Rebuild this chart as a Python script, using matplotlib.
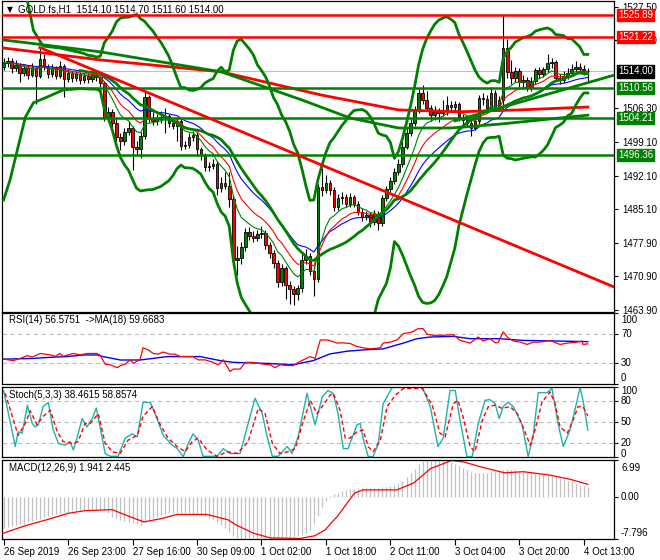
import numpy as np
import pandas as pd
import matplotlib
matplotlib.use("Agg")
import matplotlib.pyplot as plt
import matplotlib.transforms as mtransforms
from matplotlib.patches import Rectangle

plt.rcParams["font.family"] = ["Liberation Sans", "DejaVu Sans"]
plt.rcParams["font.size"] = 7

# ── H1 bars of GOLD.fs, bar 0 = 26 Sep 2019 07:00 ───────────────────────────
first_open = 1515.0
closes = [
    1515.8, 1516.2, 1514.6, 1515.4, 1513.6, 1514.8, 1513.2, 1514.6, 1513.0, 1516.6,
    1515.0, 1513.4, 1514.8, 1513.0, 1515.2, 1512.4, 1513.6, 1512.6, 1513.4, 1512.2,
    1513.0, 1512.4, 1513.2, 1512.8, 1511.6, 1504.2, 1505.5, 1503.1, 1500.2, 1499.4,
    1501.3, 1502.1, 1498.1, 1497.6, 1500.4, 1508.6, 1504.2, 1503.6, 1504.0, 1504.4,
    1504.6, 1503.2, 1502.6, 1503.6, 1498.3, 1498.6, 1500.2, 1500.6, 1497.6, 1496.4,
    1493.8, 1494.2, 1494.6, 1489.4, 1490.6, 1490.0, 1487.2, 1474.4, 1474.8, 1477.1,
    1480.2, 1479.5, 1479.0, 1479.8, 1480.0, 1477.5, 1475.8, 1473.8, 1469.8, 1472.7,
    1469.1, 1468.2, 1467.3, 1468.4, 1474.4, 1475.2, 1472.0, 1470.4, 1489.6, 1489.0,
    1490.6, 1489.1, 1485.5, 1487.4, 1487.6, 1486.2, 1487.6, 1486.2, 1484.5, 1483.4,
    1483.8, 1482.4, 1484.0, 1482.2, 1487.4, 1489.2, 1491.0, 1492.8, 1494.6, 1498.2,
    1501.0, 1503.1, 1505.9, 1509.4, 1508.0, 1506.4, 1504.8, 1505.6, 1505.2, 1505.6,
    1507.0, 1506.6, 1507.2, 1504.4, 1503.8, 1503.2, 1502.2, 1503.6, 1508.4, 1508.2,
    1506.4, 1509.4, 1506.6, 1508.0, 1519.0, 1513.8, 1512.6, 1514.0, 1511.8, 1512.2,
    1510.6, 1512.0, 1514.2, 1513.4, 1514.4, 1515.8, 1516.0, 1512.6, 1512.2, 1513.0,
    1513.6, 1514.4, 1515.0, 1514.4, 1514.1, 1514.0]
highs = [
    1516.8, 1517.0, 1516.8, 1516.4, 1515.8, 1515.6, 1515.4, 1515.8, 1515.0, 1519.0,
    1517.6, 1515.6, 1515.6, 1515.2, 1516.2, 1515.6, 1514.4, 1514.0, 1514.0, 1513.8,
    1513.6, 1513.6, 1513.8, 1513.8, 1513.2, 1512.0, 1506.6, 1506.0, 1504.2, 1501.0,
    1502.2, 1503.6, 1502.6, 1499.4, 1501.2, 1509.6, 1509.0, 1505.4, 1505.0, 1505.6,
    1506.2, 1505.0, 1503.8, 1504.4, 1504.0, 1499.4, 1501.0, 1501.4, 1501.2, 1498.2,
    1496.8, 1495.0, 1495.6, 1495.2, 1491.8, 1492.8, 1492.8, 1488.0, 1477.4, 1478.2,
    1481.0, 1481.2, 1480.4, 1480.6, 1481.6, 1480.6, 1478.2, 1476.4, 1474.4, 1473.6,
    1473.2, 1470.0, 1469.0, 1469.2, 1475.8, 1476.6, 1475.8, 1473.0, 1490.4, 1493.7,
    1492.2, 1491.2, 1489.6, 1488.2, 1488.6, 1488.2, 1488.4, 1488.0, 1486.8, 1485.2,
    1484.6, 1484.4, 1484.8, 1484.6, 1488.0, 1490.0, 1491.8, 1493.6, 1495.6, 1499.4,
    1502.0, 1504.0, 1506.8, 1510.2, 1511.1, 1509.8, 1507.0, 1506.8, 1506.4, 1508.0,
    1508.8, 1507.8, 1507.8, 1507.6, 1505.0, 1504.6, 1503.8, 1504.4, 1509.0, 1509.4,
    1509.0, 1510.8, 1510.0, 1508.8, 1525.9, 1520.8, 1516.4, 1515.0, 1514.6, 1513.2,
    1512.8, 1512.8, 1514.8, 1515.0, 1515.0, 1517.6, 1516.8, 1516.4, 1513.4, 1514.0,
    1514.6, 1515.6, 1516.2, 1515.8, 1515.4, 1514.7]
lows = [
    1514.2, 1515.0, 1513.6, 1514.0, 1511.8, 1513.0, 1512.4, 1512.8, 1507.2, 1512.6,
    1514.2, 1512.6, 1512.8, 1512.4, 1512.6, 1508.6, 1511.8, 1511.8, 1512.0, 1511.4,
    1511.6, 1511.6, 1511.8, 1512.0, 1510.8, 1503.6, 1503.4, 1502.2, 1499.0, 1497.5,
    1498.6, 1500.6, 1493.3, 1496.4, 1495.8, 1499.8, 1503.4, 1502.8, 1502.8, 1503.2,
    1501.0, 1502.4, 1501.8, 1499.4, 1497.4, 1497.6, 1497.8, 1499.4, 1496.2, 1495.4,
    1493.0, 1493.0, 1493.4, 1488.0, 1488.6, 1489.2, 1485.6, 1472.8, 1471.2, 1473.6,
    1476.2, 1478.6, 1478.2, 1478.4, 1479.0, 1476.6, 1474.8, 1472.6, 1468.6, 1469.0,
    1466.2, 1465.2, 1465.0, 1466.0, 1467.6, 1473.6, 1471.2, 1466.8, 1469.8, 1487.8,
    1488.4, 1488.0, 1484.6, 1484.8, 1486.2, 1485.4, 1485.6, 1485.4, 1483.8, 1482.6,
    1482.8, 1481.4, 1481.8, 1480.6, 1481.6, 1486.8, 1488.6, 1490.4, 1492.2, 1494.0,
    1497.6, 1500.4, 1502.6, 1505.2, 1507.2, 1505.6, 1503.6, 1503.8, 1503.4, 1504.6,
    1504.8, 1505.4, 1505.8, 1503.6, 1503.0, 1502.4, 1500.4, 1501.6, 1503.0, 1507.0,
    1505.6, 1505.8, 1505.6, 1505.8, 1506.0, 1512.6, 1511.4, 1511.8, 1510.8, 1510.6,
    1509.8, 1509.8, 1511.4, 1512.6, 1512.8, 1513.8, 1514.8, 1512.0, 1511.4, 1511.6,
    1512.4, 1513.0, 1513.8, 1513.4, 1513.2, 1511.6]

time_ticks = [0, 16, 32, 48, 64, 80, 96, 112, 128, 144]
time_labels = ["26 Sep 2019", "26 Sep 23:00", "27 Sep 16:00", "30 Sep 09:00", "1 Oct 02:00",
               "1 Oct 18:00", "2 Oct 11:00", "3 Oct 04:00", "3 Oct 20:00", "4 Oct 13:00"]
price_ticks = [1527.50, 1520.50, 1506.30, 1499.10, 1492.10, 1485.10, 1477.90, 1470.90, 1463.90]

# drawn levels and lines
red_levels = [1525.89, 1521.22]
green_levels = [1510.56, 1504.21, 1496.36]
last_price = 1514.00
down_trend_pos = [9, 151.5]
down_trend_val = [1519.0, 1468.7]
up_trend_pos = [112, 151.5]
up_trend_val = [1503.6, 1513.2]

# long moving averages
ma_red_pos = [0, 24, 54, 79, 98, 113, 128, 145]
ma_red_val = [1518.9, 1516.4, 1513.9, 1509.0, 1505.9, 1505.5, 1505.9, 1506.5]
ma_green_pos = [0, 24, 54, 74, 86, 98, 111, 123, 145]
ma_green_val = [1520.6, 1518.1, 1513.9, 1508.0, 1504.2, 1502.1, 1502.1, 1502.9, 1504.8]

# Bollinger bands before the 20-bar window is full
bb_up_early_pos = [0, 4.5, 5.9, 7.4, 9.8, 14]
bb_up_early_val = [1548.0, 1535.0, 1528.8, 1522.6, 1519.3, 1518.9]
bb_lo_early_pos = [0, 1.6, 5.4, 7.4, 10.8, 14.8]
bb_lo_early_val = [1487.0, 1491.2, 1504.4, 1507.4, 1508.6, 1510.1]

# RSI(14) and its MA(18)
rsi_pos = [0, 2.4, 4.1, 5.9, 7.1, 9.1, 11.6, 12.8, 14.0, 14.8, 17.3, 19.0, 20.7, 23.2, 24.0,
           25.2, 26.5, 28.2, 29.0, 30.2, 31.4, 32.2, 33.9, 34.6, 35.9, 37.1, 38.4, 39.6, 41.3,
           42.6, 43.8, 45.6, 47.0, 48.3, 50.0, 52.0, 53.3, 54.5, 56.2, 57.0, 58.7, 60.0, 61.9,
           64.4, 66.2, 67.4, 68.6, 70.4, 71.9, 73.1, 74.4, 76.1, 77.3, 78.6, 80.3, 81.0, 82.8,
           84.3, 86.0, 87.7, 89.2, 91.0, 93.5, 94.2, 96.0, 97.7, 99.2, 101.4, 102.9, 104.1,
           105.1, 106.6, 109.1, 111.6, 113.3, 115.8, 117.8, 119.0, 120.7, 122.0, 122.7, 124.0,
           125.2, 126.5, 128.2, 130.0, 131.4, 133.2, 135.6, 138.1, 139.9, 142.3, 143.6, 143.8, 145]
rsi_val = [35, 33, 36, 40, 38, 43, 41, 39, 43, 39, 43, 41, 43, 43, 40,
           28, 27, 23, 26, 28, 34, 29, 35, 51, 48, 43, 42, 45, 42,
           42, 38.6, 38.6, 38.6, 34, 34, 30.5, 27, 34, 17.6, 21, 21, 30.5, 30.5,
           28, 27, 23, 27, 26, 26, 30.5, 34, 38.6, 36, 62, 62, 61, 57.6,
           58, 57, 52.9, 51, 49.5, 51, 57.6, 59, 62.4, 70.9, 73.3, 78.1, 78.1,
           70, 68.6, 68.6, 69.5, 61.4, 57.6, 66.2, 60.5, 63.8, 58.1, 58.1, 73.3,
           65.2, 60.5, 59, 55.7, 59, 59, 61.4, 55.7, 57.6, 59, 60.5, 55.7, 56.58]
rsima_pos = [0, 7.3, 11.6, 15.8, 19.8, 23.2, 24.7, 29.0, 33.9, 40.6, 48.8, 53.8, 57.0, 65.4,
             71.9, 76.8, 81.0, 85.3, 89.2, 94.2, 99.2, 102.6, 105.9, 111.6, 115.8, 123.2,
             128.9, 137.4, 145]
rsima_val = [35, 36, 37.6, 38.6, 40.9, 40.9, 38.6, 33.8, 33.8, 38.6, 38.6, 32.9, 30.5, 29,
             27.1, 32.9, 42.4, 46.2, 48, 49.5, 57.6, 63.8, 66.2, 67.1, 63.8, 63.8,
             61.4, 60.5, 59.67]

# Stochastic(5,3,3)
k_pos = [0, 2.9, 3.6, 4.6, 5.9, 7.1, 7.8, 8.6, 9.8, 11.1, 12.3, 13.6, 15.3, 16.5, 17.3, 18.3,
         19.5, 20.7, 22.0, 23.0, 24.0, 25.2, 26.5, 28.4, 30.2, 31.9, 33.2, 34.6, 36.4, 37.6,
         39.6, 41.8, 43.1, 44.6, 45.8, 47.0, 48.3, 49.5, 53.0, 54.5, 56.2, 58.7, 60.7, 62.4,
         64.2, 65.4, 66.7, 68.1, 70.4, 71.6, 73.1, 75.3, 77.3, 79.1, 80.5, 81.8, 83.0, 84.3,
         85.5, 87.7, 88.5, 89.2, 90.5, 91.7, 93.0, 94.2, 96.4, 97.7, 103.9, 105.9, 107.8,
         109.1, 110.8, 112.1, 113.3, 115.0, 116.3, 117.8, 119.5, 120.7, 122.0, 123.0, 124.0,
         125.2, 126.5, 128.7, 130.2, 131.4, 132.7, 134.9, 136.1, 137.6, 138.9, 140.6, 143.1,
         143.8, 145]
k_val = [95, 15, 36, 34, 74, 48, 43, 46, 72, 78, 39, 19.5, 17, 22, 10, 29,
         55, 43, 55, 70, 41, 5, 1, 1, 27, 33, 29, 78, 78, 62,
         31, 17, 12, 0.5, 19, 33, 24, 1, 1, 12, 5, 5, 48, 84,
         62, 29, 1, 1, 15, 5, 29, 91, 46, 86, 95, 91, 62, 12,
         12, 46, 48, 27, 0.5, 0.5, 19, 76, 99, 100, 100, 72, 15,
         27, 95, 95, 52, 0.5, 0.5, 48, 81, 82, 76, 55, 72,
         78, 72, 46, 0.5, 29, 92, 92, 98, 48, 15, 38.6, 99,
         81, 38.46]
d_pos = [0.4, 3.6, 5.4, 6.6, 8.3, 9.8, 11.6, 13.3, 14.8, 17.0, 18.5, 20.2, 21.5, 23.5, 25.2,
         27.0, 28.9, 30.9, 33.2, 34.6, 36.9, 38.9, 40.8, 43.1, 45.1, 46.8, 48.3, 50.5, 53.0,
         55.5, 58.0, 60.7, 63.2, 64.9, 66.7, 68.6, 70.6, 72.4, 74.1, 76.1, 77.8, 79.3, 81.0,
         81.8, 83.5, 84.8, 86.0, 87.7, 89.2, 90.5, 91.7, 93.5, 95.2, 97.2, 99.2, 103.9, 106.4,
         108.3, 109.6, 111.6, 112.8, 114.0, 115.8, 117.0, 118.8, 120.3, 122.0, 123.7, 125.7,
         127.5, 128.9, 130.7, 131.9, 133.6, 135.6, 136.9, 138.1, 139.9, 141.3, 142.6, 143.8, 145]
d_val = [91, 31, 48, 66, 46, 58, 67, 36, 22, 19.5, 22, 48, 48, 62, 19.5,
         7.6, 5, 24, 31, 58, 72, 46, 27, 14.7, 7.6, 22, 27, 10, 1,
         7.6, 5, 22, 69.5, 62, 19.5, 5, 7.6, 12, 46, 81, 62, 74, 88,
         91, 67, 27, 27, 36, 38.6, 14.7, 7.6, 24, 72, 88, 98, 98, 74,
         34, 29, 76, 81, 58, 14.7, 7.6, 52, 72, 74, 69.5, 72,
         62, 43, 17, 38.6, 78, 93, 76, 43, 34, 52, 72, 72, 58.86]

# MACD(12,26,9): main line as histogram (one value per bar) and signal line
macd_main = [
    -5.7, -5.5, -5.3, -5.2, -5.0, -4.9, -4.7, -4.5, -4.3, -4.0,
    -3.7, -3.5, -3.3, -3.1, -2.9, -2.8, -2.7, -2.6, -2.5, -2.4,
    -2.3, -2.3, -2.2, -2.2, -2.3, -2.4, -3.0, -3.6, -3.9, -4.2,
    -4.5, -4.7, -4.8, -5.0, -5.1, -4.6, -4.2, -3.9, -3.6, -3.3,
    -3.1, -3.0, -2.9, -2.9, -3.0, -3.0, -3.0, -3.1, -3.2, -3.3,
    -3.4, -3.8, -4.2, -4.6, -5.2, -5.8, -6.5, -7.2, -7.6, -7.8,
    -7.8, -7.7, -7.7, -7.8, -7.8, -7.7, -7.7, -7.8, -7.8, -7.8,
    -7.7, -7.6, -7.5, -7.3, -7.1, -6.6, -6.1, -5.0, -3.4, -1.8,
    -0.6, 0.2, 0.6, 0.9, 1.1, 1.3, 1.5, 1.6, 1.7, 1.7,
    1.7, 1.7, 1.7, 1.8, 1.9, 2.0, 2.1, 2.3, 2.6, 3.1,
    3.8, 4.5, 5.3, 6.2, 6.8, 6.99, 6.99, 6.99, 6.95, 6.9,
    6.8, 6.6, 6.3, 5.9, 5.5, 5.1, 4.8, 4.6, 4.5, 4.6,
    4.6, 4.7, 4.8, 4.9, 5.2, 5.3, 5.2, 5.1, 4.9, 4.8,
    4.7, 4.6, 4.5, 4.4, 4.3, 4.2, 4.0, 3.8, 3.6, 3.4,
    3.1, 2.9, 2.6, 2.4, 2.2, 1.941]
sig_pos = [0, 5.4, 10.7, 15.9, 20.1, 26.9, 30.6, 34.8, 39.0, 43.1, 50.5, 55.7, 57.8, 62.0,
           66.2, 73.5, 77.2, 79.8, 83.0, 87.1, 89.2, 97.6, 101.8, 106.0, 111.2, 114.3, 118.5,
           124.3, 129.0, 135.3, 140.5, 145]
sig_val = [-6.7, -5.3, -4.2, -3.0, -2.5, -2.3, -3.4, -4.6, -4.0, -3.2, -3.2, -4.2, -5.2, -6.7,
           -7.6, -7.7, -7.2, -6.1, -3.4, 0.8, 1.4, 1.4, 2.7, 5.4, 6.9, 6.6, 5.7,
           4.6, 4.8, 4.2, 3.4, 2.445]

# ── Derived series ───────────────────────────────────────────────────────────
opens = [first_open] + closes[:-1]
idx = np.arange(len(closes))
cs = pd.Series(closes)
ema_green = cs.ewm(span=8, adjust=False).mean()
ema_red = cs.ewm(span=13, adjust=False).mean()
ema_blue = cs.ewm(span=21, adjust=False).mean()
bb_mid = cs.rolling(20).mean()
bb_sd = cs.rolling(20).std(ddof=0)
bb_up = bb_mid + 3 * bb_sd
bb_lo = bb_mid - 3 * bb_sd

GREEN, RED, BLUE = "#008000", "#ff0000", "#0000ff"
W, H = 660, 560
fig = plt.figure(figsize=(W / 100, H / 100), dpi=100)
fig.patch.set_facecolor("white")


def panel(top, bottom):
    ax = fig.add_axes([2 / W, 1 - bottom / H, 612 / W, (bottom - top) / H])
    ax.set_xlim(-0.4, 151.5)
    for s in ax.spines.values():
        s.set_linewidth(0.9)
        s.set_color("black")
    ax.yaxis.tick_right()
    ax.tick_params(axis="y", length=3, width=0.8, pad=3, labelsize=7)
    ax.tick_params(axis="x", bottom=False, labelbottom=False)
    return ax


def side_labels(ax, values, texts, top_dy=-1.0, bot_dy=1.0):
    ax.set_yticks(values)
    ax.set_yticklabels([])
    tr = mtransforms.blended_transform_factory(ax.transAxes, ax.transData)
    lo, hi = ax.get_ylim()
    for v, t in zip(values, texts):
        va, dy = "center", 0
        if v == hi:
            va, dy = "top", top_dy
        elif v == lo:
            va, dy = "bottom", bot_dy
        off = mtransforms.ScaledTranslation(0, dy / 72, fig.dpi_scale_trans)
        ax.text(1.0 + 7 / 612, v, t, transform=tr + off, ha="left", va=va, fontsize=7)


# ── Main price panel ─────────────────────────────────────────────────────────
ax = panel(1, 312)
ax.set_ylim(1463.44, 1528.78)
ax.set_yticks(price_ticks)
ax.set_yticklabels([f"{p:.2f}" for p in price_ticks])

ax.axhline(last_price, color="#c0c0c0", lw=0.8, zorder=1)
for i in idx:
    o, c = opens[i], closes[i]
    ax.vlines(i, lows[i], highs[i], color="black", lw=0.8, zorder=2)
    ax.add_patch(Rectangle((i - 0.32, min(o, c)), 0.64, max(abs(c - o), 0.1),
                           fc=GREEN if c >= o else RED, ec="black", lw=0.6, zorder=3))

ax.plot(idx, ema_blue, color=BLUE, lw=0.8, zorder=4)
ax.plot(idx, ema_red, color=RED, lw=0.8, zorder=4)
ax.plot(idx, ema_green, color=GREEN, lw=0.8, zorder=4)

ax.plot(ma_red_pos, ma_red_val, color=RED, lw=2.0, zorder=5)
ax.plot(ma_green_pos, ma_green_val, color=GREEN, lw=2.0, zorder=5)
ax.plot(np.r_[bb_up_early_pos, idx[19:]], np.r_[bb_up_early_val, bb_up[19:]], color=GREEN, lw=2.0, zorder=5)
ax.plot(np.r_[bb_lo_early_pos, idx[19:]], np.r_[bb_lo_early_val, bb_lo[19:]], color=GREEN, lw=2.0, zorder=5)
ax.plot(idx[19:], bb_mid[19:], color=GREEN, lw=2.0, zorder=5)

for lvl in red_levels:
    ax.axhline(lvl, color=RED, lw=1.8, zorder=6)
for lvl in green_levels:
    ax.axhline(lvl, color=GREEN, lw=1.8, zorder=6)
ax.plot(down_trend_pos, down_trend_val, color=RED, lw=2.0, zorder=6)
ax.plot(up_trend_pos, up_trend_val, color=GREEN, lw=2.0, zorder=6)

blend = mtransforms.blended_transform_factory(ax.transAxes, ax.transData)
boxes = [(l, RED) for l in red_levels] + [(last_price, "black")] + [(l, GREEN) for l in green_levels]
for lvl, col in boxes:
    ax.text(1.0 + 4 / 612, lvl, f"{lvl:.2f}", transform=blend, ha="left", va="center",
            color="white", fontsize=7, clip_on=False, zorder=10,
            bbox=dict(boxstyle="square,pad=0.12", fc=col, ec=col))

fig.text(7 / W, 1 - 10 / H, "\u25bc", fontsize=5.5, va="center", family=["DejaVu Sans"])
fig.text(18 / W, 1 - 10 / H, "GOLD.fs,H1  1514.10 1514.70 1511.60 1514.00", fontsize=7, va="center")

# ── RSI panel ────────────────────────────────────────────────────────────────
ax_rsi = panel(313, 384)
ax_rsi.set_ylim(0, 100)
for lv in (70, 30):
    ax_rsi.axhline(lv, color="#c0c0c0", lw=0.8, ls=(0, (4, 3)))
ax_rsi.plot(rsima_pos, rsima_val, color=BLUE, lw=1.0)
ax_rsi.plot(rsi_pos, rsi_val, color=RED, lw=0.9)
side_labels(ax_rsi, [100, 70, 30, 0], ["100", "70", "30", "0"], top_dy=-1.2)
ax_rsi.text(7 / 612, 0.9, "RSI(14) 56.5751  ->MA(18) 59.6683", transform=ax_rsi.transAxes,
            va="center", fontsize=7)

# ── Stochastic panel ─────────────────────────────────────────────────────────
ax_sto = panel(387, 457)
ax_sto.set_ylim(0, 100)
for lv in (80, 50, 20):
    ax_sto.axhline(lv, color="#c0c0c0", lw=0.8, ls=(0, (4, 3)))
ax_sto.plot(k_pos, k_val, color="#20b2aa", lw=1.0)
ax_sto.plot(d_pos, d_val, color=RED, lw=1.0, ls=(0, (3, 2)))
side_labels(ax_sto, [100, 80, 50, 20, 0], ["100", "80", "50", "20", "0"], top_dy=0.8, bot_dy=-1.2)
ax_sto.text(7 / 612, 0.88, "Stoch(5,3,3) 38.4615 58.8574", transform=ax_sto.transAxes,
            va="center", fontsize=7)

# ── MACD panel ───────────────────────────────────────────────────────────────
ax_macd = panel(460, 539)
ax_macd.set_ylim(-7.796, 6.99)
ax_macd.vlines(idx, 0, macd_main, color="#c0c0c0", lw=0.9)
ax_macd.plot(sig_pos, sig_val, color=RED, lw=0.9)
side_labels(ax_macd, [6.99, 0.0, -7.796], ["6.99", "0.00", "-7.796"], top_dy=-2.5)
ax_macd.text(7 / 612, 0.9, "MACD(12,26,9) 1.941 2.445", transform=ax_macd.transAxes,
             va="center", fontsize=7)
ax_macd.set_xticks(time_ticks)
ax_macd.set_xticklabels(time_labels, ha="left")
ax_macd.tick_params(axis="x", bottom=True, labelbottom=True, length=4, width=0.8, pad=2, labelsize=7)

fig.savefig("out.png", dpi=100, facecolor="white")
